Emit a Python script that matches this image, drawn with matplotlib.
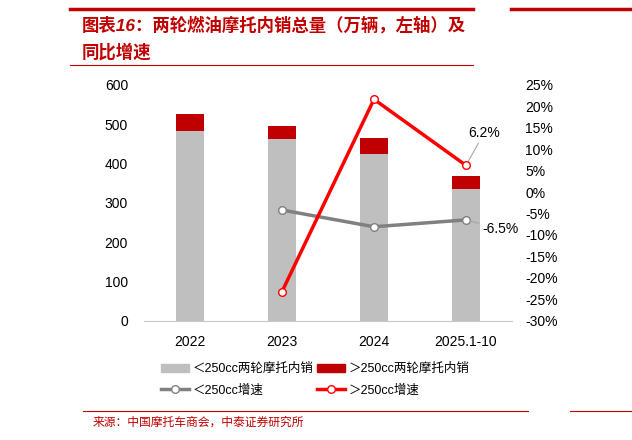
import numpy as np
import matplotlib
matplotlib.use("Agg")
import matplotlib.pyplot as plt
from matplotlib.patches import Patch
from matplotlib.lines import Line2D

plt.rcParams['font.family'] = ['Liberation Sans', 'Noto Sans CJK SC', 'DejaVu Sans']

years = ["2022", "2023", "2024", "2025.1-10"]
small_sales = [482, 462, 424, 334]     # <250cc, 万辆
big_sales = [44, 34, 41, 35]           # >250cc, 万辆
small_growth = [None, -4.2, -8.1, -6.5]   # %
big_growth = [None, -23.2, 21.6, 6.2]     # %

GRAY = "#bfbfbf"
DARKRED = "#c00000"
TITLE_RED = "#c00000"

fig = plt.figure(figsize=(6.32, 4.40), dpi=100)
ax = fig.add_axes([0.228, 0.271, 0.582, 0.5365])
x = np.arange(len(years))

ax.bar(x, small_sales, width=0.31, color=GRAY, zorder=2)
ax.bar(x, big_sales, width=0.31, bottom=small_sales, color=DARKRED, zorder=2)
ax.set_ylim(0, 600)
ax.set_yticks(range(0, 601, 100))
ax.set_xlim(-0.5, 3.5)
ax.set_xticks(x)
ax.set_xticklabels(years)
ax.tick_params(length=0, labelsize=10, colors="#000000")
ax.tick_params(axis="x", pad=10)
ax.tick_params(axis="y", pad=11.5)
for s in ["top", "left", "right"]:
    ax.spines[s].set_visible(False)
ax.spines["bottom"].set_color("#c8c8c8")

ax2 = ax.twinx()
xs = x[1:]
ax2.plot(xs, small_growth[1:], color="#808080", lw=2.5, marker="o", ms=5.5,
         mfc="white", mec="#808080", mew=1, zorder=3)
ax2.plot(xs, big_growth[1:], color="#ff0000", lw=2.5, marker="o", ms=5.5,
         mfc="white", mec="#ff0000", mew=1, zorder=4)
ax2.set_ylim(-30, 25)
ax2.set_yticks(range(-30, 26, 5))
ax2.set_yticklabels([f"{v}%" for v in range(-30, 26, 5)])
ax2.tick_params(length=0, labelsize=10, pad=9.5)
for s in ["top", "left", "right", "bottom"]:
    ax2.spines[s].set_visible(False)

ax2.annotate(f"{big_growth[3]}%", xy=(3, big_growth[3]), xytext=(13, 18),
             textcoords="offset points", ha="center", va="bottom", fontsize=10,
             arrowprops=dict(arrowstyle="-", color="#a6a6a6", lw=0.8, shrinkA=0, shrinkB=3))
ax2.annotate(f"{small_growth[3]}%", xy=(3, small_growth[3]), xytext=(11.5, -6.5),
             textcoords="offset points", ha="left", va="center", fontsize=10,
             arrowprops=dict(arrowstyle="-", color="#a6a6a6", lw=0.8, shrinkA=0, shrinkB=3))

handles = [
    Patch(color=GRAY, label="＜250cc两轮摩托内销"),
    Line2D([], [], color="#808080", lw=2.5, marker="o", ms=5.5, mfc="white", mec="#808080", label="＜250cc增速"),
    Patch(color=DARKRED, label="＞250cc两轮摩托内销"),
    Line2D([], [], color="#ff0000", lw=2.5, marker="o", ms=5.5, mfc="white", mec="#ff0000", label="＞250cc增速"),
]
fig.legend(handles=handles, ncol=2, frameon=False, fontsize=9,
           loc="upper left", bbox_to_anchor=(150 / 632, 1 - 352 / 440),
           handlelength=2.2, handletextpad=0.3, columnspacing=0.3, labelspacing=0.7)

# title block
fig.add_artist(Line2D([70 / 632, 473 / 632], [1 - 9 / 440] * 2, color=TITLE_RED, lw=2.5))
fig.add_artist(Line2D([511 / 632, 1.0], [1 - 9 / 440] * 2, color=TITLE_RED, lw=2.5))
fig.text(82 / 632, 1 - 25 / 440, "图表16：两轮燃油摩托内销总量（万辆，左轴）及",
         color=TITLE_RED, fontsize=12.5, fontweight="bold", fontstyle="italic", va="center")
fig.text(82 / 632, 1 - 52 / 440, "同比增速",
         color=TITLE_RED, fontsize=12.5, fontweight="bold", fontstyle="italic", va="center")
fig.add_artist(Line2D([70 / 632, 473 / 632], [1 - 65 / 440] * 2, color=TITLE_RED, lw=0.8))

# source
fig.add_artist(Line2D([83 / 632, 528 / 632], [1 - 411 / 440] * 2, color=TITLE_RED, lw=0.8))
fig.add_artist(Line2D([570 / 632, 1.0], [1 - 411 / 440] * 2, color=TITLE_RED, lw=0.8))
fig.text(93 / 632, 1 - 423 / 440, "来源：中国摩托车商会，中泰证券研究所",
         color=TITLE_RED, fontsize=8.5, va="center")

fig.savefig("out.png", dpi=100)
